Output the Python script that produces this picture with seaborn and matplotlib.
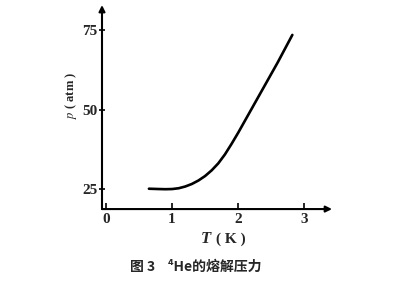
import matplotlib
matplotlib.use("Agg")
import matplotlib.pyplot as plt
import seaborn as sns
import pandas as pd

# data
T_K = [0.65, 0.8, 0.9, 1.0, 1.1, 1.2, 1.3, 1.4, 1.5, 1.6, 1.7, 1.8, 1.9, 2.0, 2.1, 2.2, 2.4, 2.6, 2.82]
p_atm = [25.1, 25.0, 24.95, 25.0, 25.25, 25.8, 26.6, 27.7, 29.1, 30.9, 33.1, 35.9, 39.2, 42.7, 46.4, 50.1, 57.5, 64.9, 73.5]
xticks = [0, 1, 2, 3]
yticks = [25, 50, 75]

sns.set_theme(style="white")
plt.rcParams['font.family'] = ['Liberation Serif', 'DejaVu Serif']
plt.rcParams['mathtext.fontset'] = 'stix'

fig = plt.figure(figsize=(4.0, 2.81), dpi=100)
ax = fig.add_axes([0.255, 0.256, 0.575, 0.726])

df = pd.DataFrame({"T": T_K, "p": p_atm})
sns.lineplot(data=df, x="T", y="p", ax=ax, color="black", linewidth=1.9)

ax.set_xlim(-0.06, 3.42)
ax.set_ylim(18.7, 82.9)
ax.set_xticks(xticks)
ax.set_yticks(yticks)
ax.set_xticklabels([str(v) for v in xticks], fontweight="bold", fontsize=11)
ax.set_yticklabels([str(v) for v in yticks], fontweight="bold", fontsize=11)
ax.tick_params(axis="x", direction="in", length=4, width=1.2, color="black", pad=3)
ax.tick_params(axis="y", direction="inout", length=5, width=1.2, color="black", pad=1)
ax.tick_params(axis="both", which="both", bottom=True, left=True)

for s in ["top", "right", "left", "bottom"]:
    ax.spines[s].set_visible(False)

# axes with arrows
ax.annotate("", xy=(1.0, 0), xytext=(0, 0), xycoords="axes fraction",
            arrowprops=dict(arrowstyle="-|>", color="black", lw=1.5,
                            mutation_scale=9, shrinkA=0, shrinkB=0))
ax.annotate("", xy=(0, 1.0), xytext=(0, 0), xycoords="axes fraction",
            arrowprops=dict(arrowstyle="-|>", color="black", lw=1.5,
                            mutation_scale=9, shrinkA=0, shrinkB=0))

ax.set_xlabel("")
ax.set_ylabel("")
fig.text(0.527, 0.149, "T", fontsize=12, fontweight="bold", fontstyle="italic",
         ha="right", va="center")
fig.text(0.54, 0.149, "( K )", fontsize=11, fontweight="bold", ha="left", va="center")
fig.text(0.178, 0.662, "$p$ ( atm )", fontsize=9, fontweight="bold", rotation=90,
         ha="center", va="center")

fig.text(0.49, 0.05, "图 3    ⁴He的熔解压力", fontsize=10, fontweight="bold",
         ha="center", va="center", family=["Noto Sans CJK SC", "DejaVu Sans"])

fig.savefig("out.png", dpi=100, facecolor="white")
